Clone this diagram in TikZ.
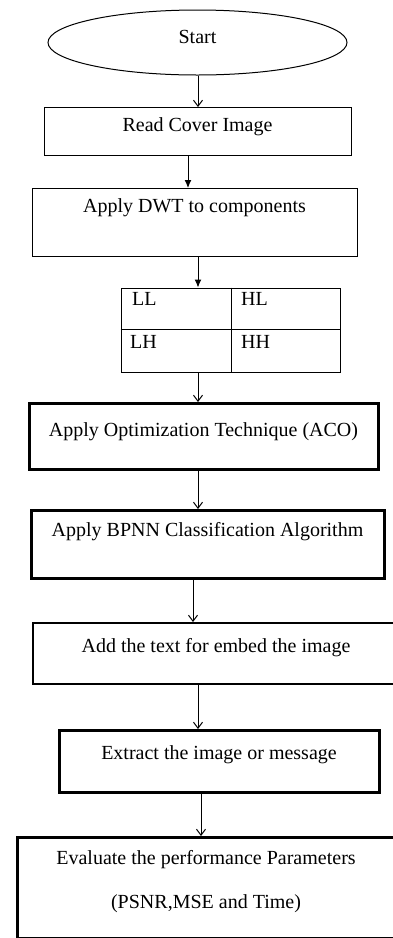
\documentclass[tikz,border=0pt]{standalone}
\usepackage{fontspec}
\setmainfont{Liberation Serif}
\usetikzlibrary{shapes.geometric,arrows.meta,calc}

\tikzset{
	stepbox/.style={draw,rectangle,anchor=north,inner sep=0pt,line width=1pt,font=\fontsize{20}{24}\selectfont},
	boldbox/.style={stepbox,line width=3pt},
	cell/.style={anchor=base west,inner sep=0pt,font=\fontsize{20}{24}\selectfont},
	openarr/.style={-{Straight Barb[length=6pt,width=9pt]},line width=1pt},
	fillarr/.style={-{Latex[length=8pt,width=7pt]},line width=1pt}
}

\begin{document}
\begin{tikzpicture}[x=1pt,y=-1pt]
		\useasboundingbox (0,0) rectangle (392,938);
		\node[draw,ellipse,line width=1pt,minimum width=299pt,minimum height=65pt,inner sep=0pt,text height=13pt,text depth=12pt,font=\fontsize{20}{24}\selectfont] (start) at (197.5,42.5) {Start};
		\node[stepbox,minimum width=307pt,minimum height=48pt,text height=24pt,text depth=24pt] (read) at (197.5,107) {Read Cover Image};
		\node[stepbox,minimum width=325pt,minimum height=68pt,text height=24pt,text depth=44pt] (dwt) at (194.5,188) {Apply DWT to components};
	% sub-bands
		\node[draw,line width=1pt,minimum width=219pt,minimum height=84pt,inner sep=0pt] (grid) at (230.5,330) {};
		\draw[line width=1pt] ([xshift=0.5pt]grid.north) -- ([xshift=0.5pt]grid.south);
		\draw[line width=1pt] ([yshift=1pt]grid.west) -- ([yshift=1pt]grid.east);
			\node[cell] (ll) at (132,305) {LL};
			\node[cell] (hl) at (241,305) {HL};
			\node[cell] (lh) at (130,348) {LH};
			\node[cell] (hh) at (241,348) {HH};
		\node[boldbox,minimum width=349pt,minimum height=66pt,text height=33pt,text depth=33pt] (aco) at (203.5,402) {Apply Optimization Technique (ACO)};
		\node[boldbox,minimum width=353pt,minimum height=68pt,text height=26pt,text depth=42pt] (bpnn) at (207.5,509) {Apply BPNN Classification Algorithm};
		\node[stepbox,line width=2pt,minimum width=366pt,minimum height=61pt,text height=29pt,text depth=32pt] (add) at (216,622) {Add the text for embed the image};
		\node[boldbox,minimum width=320pt,minimum height=62pt,text height=29pt,text depth=33pt] (extract) at (219,729) {Extract the image or message};
		\node[boldbox,align=center,minimum width=378pt,minimum height=101pt,text height=71pt,text depth=30pt] (eval) at (206,836) {Evaluate the performance Parameters\\[20pt](PSNR,MSE and Time)};
	% arrows
		\draw[openarr] ([xshift=0.5pt]start.south) -- ([xshift=0.5pt]start.south |- read.north);
		\draw[fillarr] ([xshift=-9.5pt]read.south) -- ([xshift=-9.5pt]read.south |- dwt.north);
		\draw[fillarr] ([xshift=3.5pt]dwt.south) -- ([xshift=3.5pt]dwt.south |- grid.north);
		\draw[openarr] ([xshift=-32.5pt]grid.south) -- ([xshift=-32.5pt]grid.south |- aco.north);
		\draw[openarr] ([xshift=-5.5pt]aco.south) -- ([xshift=-5.5pt]aco.south |- bpnn.north);
		\draw[openarr] ([xshift=-14.5pt]bpnn.south) -- ([xshift=-14.5pt]bpnn.south |- add.north);
		\draw[openarr] ([xshift=-18pt]add.south) -- ([xshift=-18pt]add.south |- extract.north);
		\draw[openarr] ([xshift=-18pt]extract.south) -- ([xshift=-18pt]extract.south |- eval.north);
	\end{tikzpicture}
\end{document}
